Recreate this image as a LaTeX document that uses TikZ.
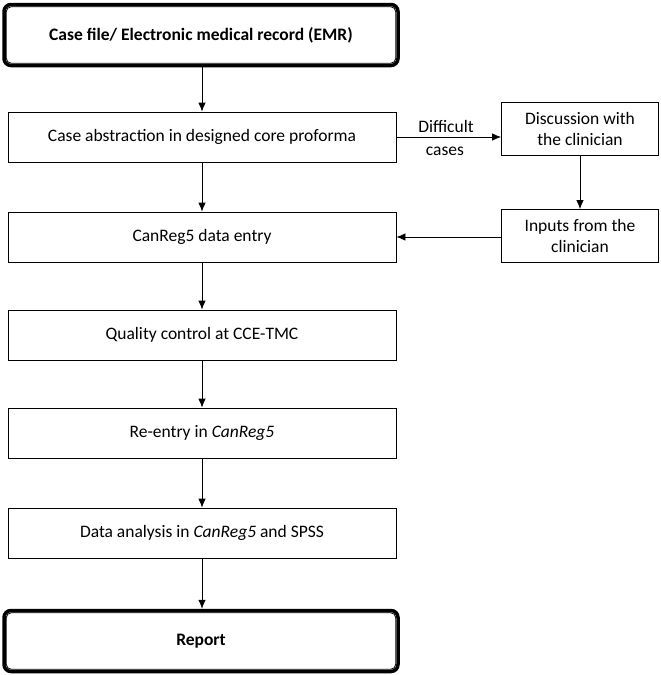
\documentclass[tikz,border=0pt]{standalone}
\usepackage{fontspec}
\setmainfont{Carlito}
\usetikzlibrary{arrows.meta,calc}
\begin{document}
\begin{tikzpicture}[x=1pt,y=-1pt,
  txt/.style={font=\fontsize{17.5}{21}\selectfont},
  box/.style={draw,line width=0.8pt,minimum width=388pt,minimum height=50pt,inner sep=0pt,txt},
  sidebox/.style={draw,line width=0.8pt,minimum width=157pt,minimum height=53pt,inner sep=0pt,align=center,txt},
  endbox/.style={draw,line width=3.5pt,rounded corners=7pt,minimum width=394pt,minimum height=61pt,inner sep=0pt,font=\bfseries\fontsize{17.5}{21}\selectfont},
  innerline/.style={draw,line width=0.8pt,rounded corners=5pt},
  arr/.style={-{Latex[length=9pt,width=7.5pt]},line width=0.8pt}]
\useasboundingbox (0,0) rectangle (661,675);
\node[endbox] (emr) at (201,35) {Case file/ Electronic medical record (EMR)};
\draw[innerline] ($(emr.south west)+(4,-4)$) rectangle ($(emr.north east)+(-4,4)$);
\node[box] (abs) at (202,137) {Case abstraction in designed core proforma};
\node[sidebox] (disc) at (580,129) {Discussion with\\the clinician};
\node[sidebox] (inp) at (580,236) {Inputs from the\\clinician};
\node[box] (can) at (202,237) {CanReg5 data entry};
\node[box] (qc) at (202,335) {Quality control at CCE-TMC};
\node[box] (re) at (202,433) {Re-entry in \textit{CanReg5}};
\node[box] (da) at (202,533) {Data analysis in \textit{CanReg5} and SPSS};
\node[endbox] (rep) at (201,641) {Report};
\draw[innerline] ($(rep.south west)+(4,-4)$) rectangle ($(rep.north east)+(-4,4)$);
\draw[arr] (emr.south -| abs.north) -- (abs.north);
\draw[arr] (abs.east) -- (disc.west |- abs.east);
\node[txt] (dl1) at (446,126) {Difficult};
\node[txt] (dl2) at (445,151) {cases};
\draw[arr] (disc.south) -- (inp.north);
\draw[arr] (inp.west |- can.east) -- (can.east);
\draw[arr] (abs.south) -- (can.north);
\draw[arr] (can.south) -- (qc.north);
\draw[arr] (qc.south) -- (re.north);
\draw[arr] (re.south) -- (da.north);
\draw[arr] (da.south) -- (rep.north -| da.south);
\end{tikzpicture}
\end{document}
